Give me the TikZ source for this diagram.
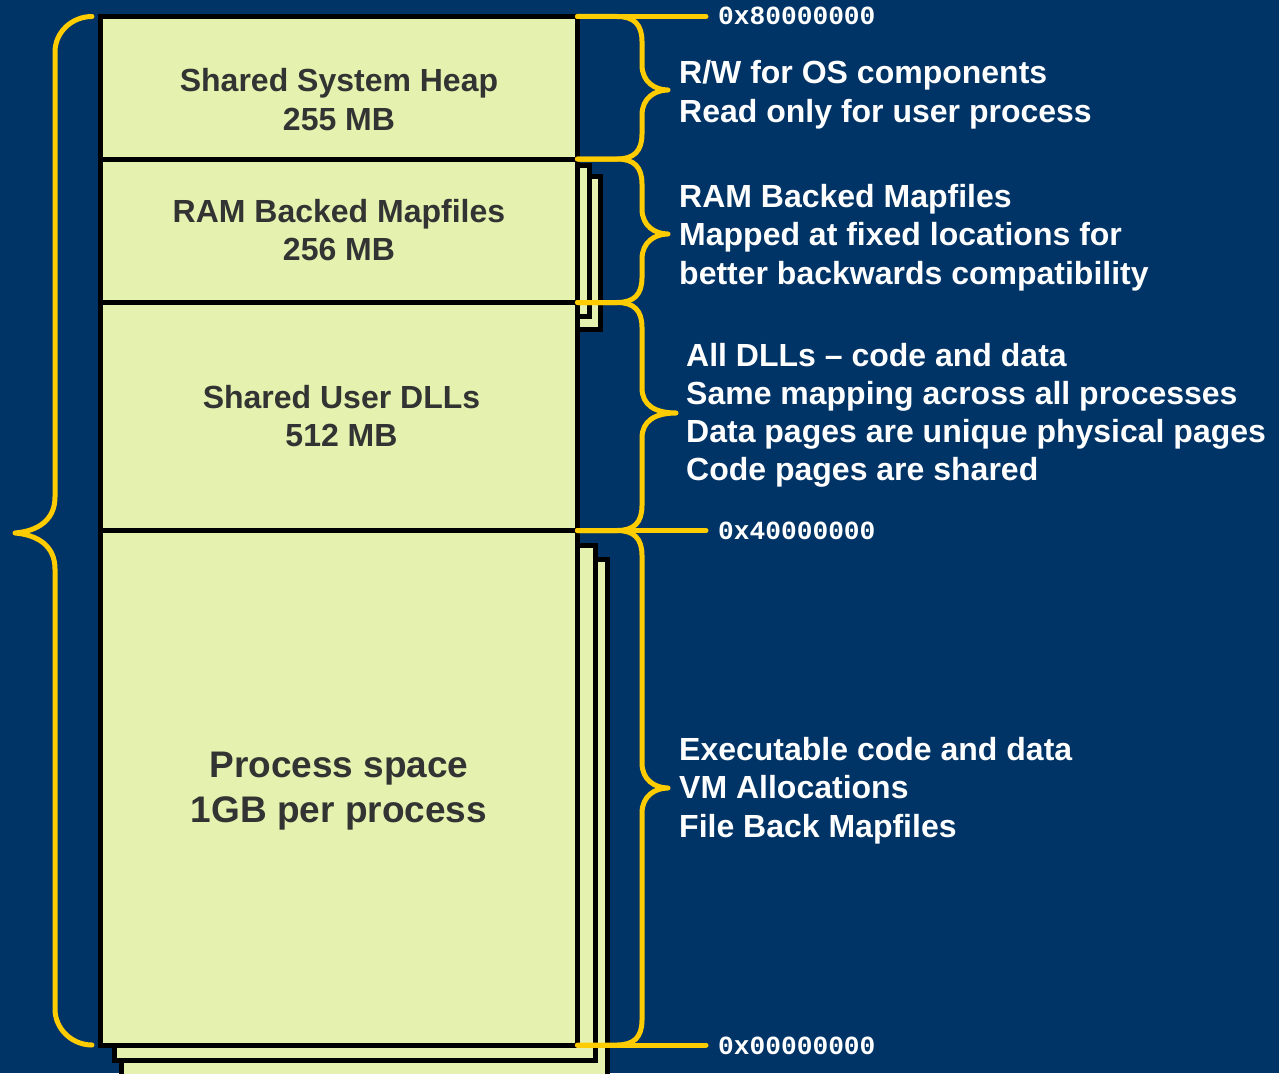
\documentclass[tikz,border=0pt]{standalone}
\usepackage{fontspec}
\setmainfont{Liberation Sans}
\newfontfamily\hexfont{Liberation Mono}
\definecolor{navy}{HTML}{003366}
\definecolor{pagefill}{HTML}{E5F2AF}
\definecolor{braceyellow}{HTML}{FFCC00}
\definecolor{ink}{HTML}{333333}

% right-hand curly brace: top y, tip y, bottom y, tip x
\newcommand\membrace[4]{%
  \draw[bracepath] (577.5,#1) -- (617,#1)
    .. controls (634,#1) and (642,#1+8) .. (642,#1+25)
    -- (642,#2-25)
    .. controls (642,#2-8) and (655,#2) .. (#4,#2)
    .. controls (655,#2) and (642,#2+8) .. (642,#2+25)
    -- (642,#3-25)
    .. controls (642,#3-8) and (634,#3) .. (617,#3)
    -- (577.5,#3);}

\begin{document}
\begin{tikzpicture}[x=1pt,y=-1pt,
  page/.style={draw=black, fill=pagefill, line width=5pt},
  rule/.style={draw=black, line width=5pt},
  bracepath/.style={draw=braceyellow, line width=5pt, line cap=round, line join=round},
  boxtext/.style={font=\bfseries\fontsize{32}{38}\selectfont, text=ink, inner sep=0pt, anchor=base},
  bigtext/.style={font=\bfseries\fontsize{37}{44}\selectfont, text=ink, inner sep=0pt, anchor=base},
  note/.style={font=\bfseries\fontsize{32}{38}\selectfont, text=white, inner sep=0pt, anchor=base west},
  addr/.style={font=\hexfont\bfseries\fontsize{26.2}{30}\selectfont, text=white, inner sep=0pt, anchor=base west},
]
\fill[navy] (0,0) rectangle (1279,1073);
\useasboundingbox (0,0) rectangle (1279,1073);

% stacked pages behind the mapfile region
\draw[page] (112,176) rectangle (600.5,329);
\draw[page] (106,165) rectangle (589.5,316);
% stacked pages behind the process space
\draw[page] (121.5,559.5) rectangle (607.5,1100);
\draw[page] (114.5,545.5) rectangle (595,1060);

% main address space column
\draw[page] (100,16.5) rectangle (577.5,1045);
\draw[rule] (100,159) -- (577.5,159);
\draw[rule] (100,302.5) -- (577.5,302.5);
\draw[rule] (100,530.5) -- (577.5,530.5);

% region labels
\node[boxtext] (heapA) at (339,92) {Shared System Heap};
\node[boxtext] (heapB) at (339,130) {255 MB};
\node[boxtext] (ramA) at (339,222.5) {RAM Backed Mapfiles};
\node[boxtext] (ramB) at (339,260.5) {256 MB};
\node[boxtext] (dllA) at (341.5,408.5) {Shared User DLLs};
\node[boxtext] (dllB) at (341.5,446.5) {512 MB};
\node[bigtext] (procA) at (339,777) {Process space};
\node[bigtext] (procB) at (339,822) {1GB per process};

% braces
\draw[bracepath] (92,16.5) .. controls (72,16.5) and (55,32) .. (55,52)
  -- (55,497) .. controls (55,520) and (38,531) .. (15,533)
  .. controls (38,535) and (55,546) .. (55,569)
  -- (55,1009) .. controls (55,1029) and (72,1045) .. (92,1045);
\membrace{16.5}{90}{159}{668}
\membrace{159}{234}{302.5}{668}
\membrace{302.5}{413}{530.5}{676}
\membrace{530.5}{788}{1045}{668}

% address markers
\coordinate (topedge) at (577.5,16.5);
\coordinate (midedge) at (577.5,530.5);
\coordinate (botedge) at (577.5,1045);
\coordinate (topend) at (706,16.5);
\coordinate (midend) at (706,530.5);
\coordinate (botend) at (706,1045);
\draw[bracepath] (topedge) -- (topend);
\draw[bracepath] (midedge) -- (midend);
\draw[bracepath] (botedge) -- (botend);
\node[addr] (a8) at (718,25) {0x80000000};
\node[addr] (a4) at (718,539) {0x40000000};
\node[addr] (a0) at (718,1054) {0x00000000};

% descriptions
\node[note] (n1a) at (679,83.5) {R/W for OS components};
\node[note] (n1b) at (679,122) {Read only for user process};
\node[note] (n2a) at (679,207.5) {RAM Backed Mapfiles};
\node[note] (n2b) at (679,245.5) {Mapped at fixed locations for};
\node[note] (n2c) at (679,284.5) {better backwards compatibility};
\node[note] (n3a) at (686,366) {All DLLs – code and data};
\node[note] (n3b) at (686,404) {Same mapping across all processes};
\node[note] (n3c) at (686,442) {Data pages are unique physical pages};
\node[note] (n3d) at (686,480) {Code pages are shared};
\node[note] (n4a) at (679,760.5) {Executable code and data};
\node[note] (n4b) at (679,798.5) {VM Allocations};
\node[note] (n4c) at (679,837.5) {File Back Mapfiles};
\end{tikzpicture}
\end{document}
